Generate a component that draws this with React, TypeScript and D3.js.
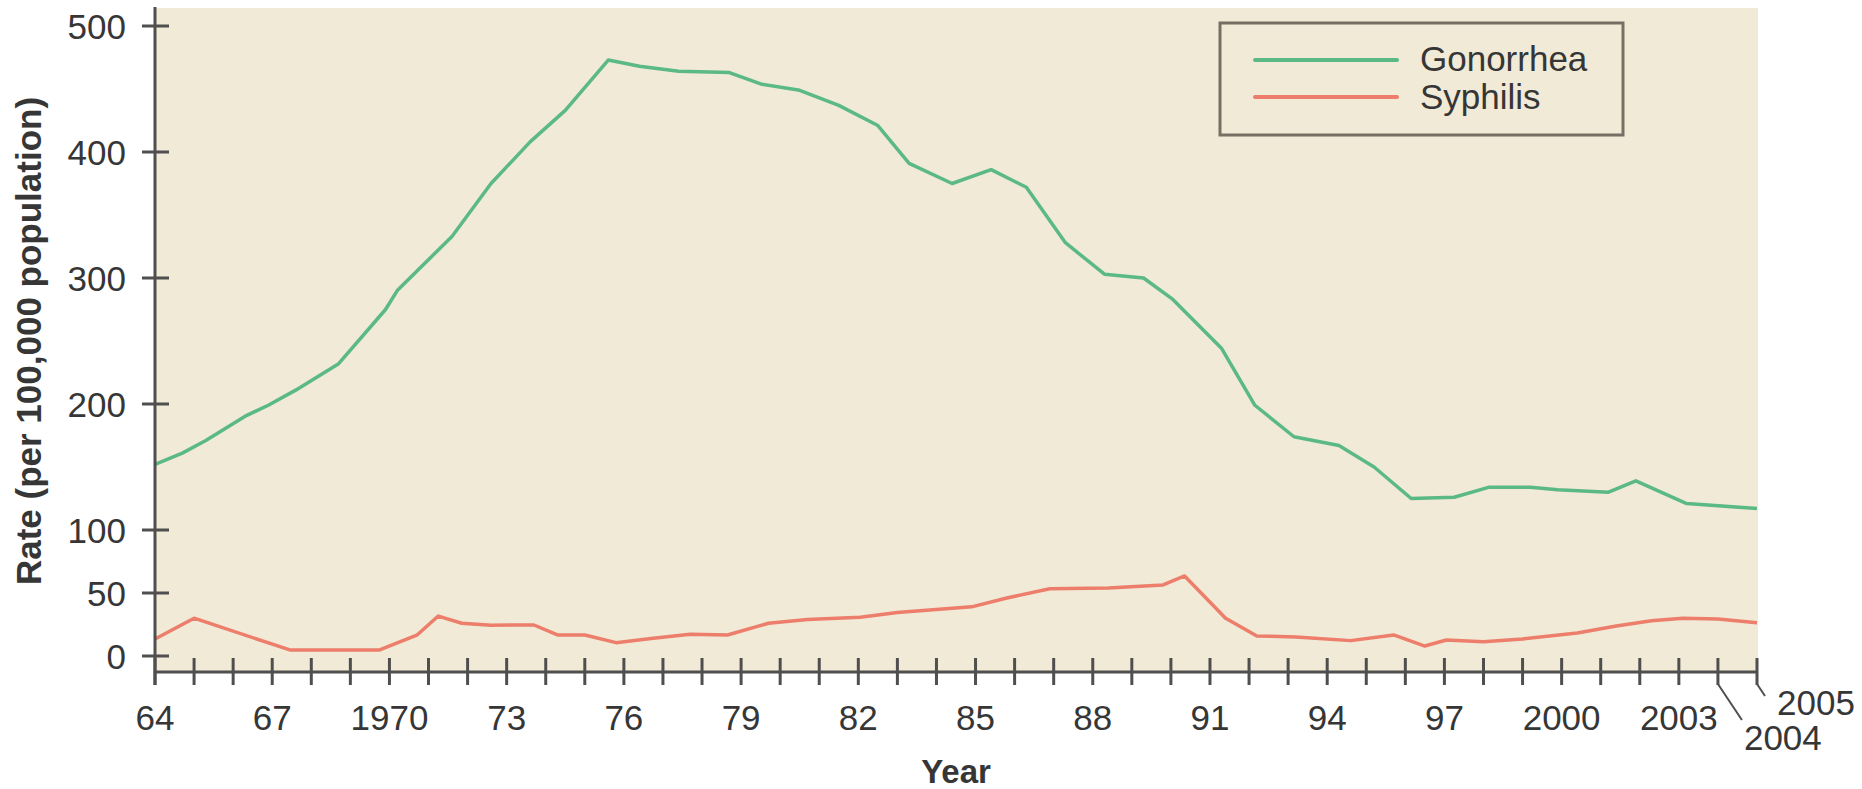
import React from "react";
import * as d3 from "d3";

const gonorrheaYears = [1964, 1964.7, 1965.3, 1966.35, 1966.9, 1967.6, 1968.7, 1969.9, 1970.2, 1971.6, 1972.6, 1973.6, 1974.5, 1975.6, 1976.4, 1977.4, 1978.7, 1979.5, 1980.5, 1981.5, 1982.5, 1983.3, 1984.4, 1985.4, 1986.3, 1987.3, 1988.3, 1989.3, 1990.05, 1991.3, 1992.15, 1993.15, 1994.3, 1995.2, 1996.15, 1997.25, 1998.15, 1999.2, 1999.9, 2001.2, 2001.9, 2003.2, 2005];
const gonorrheaRates = [152, 161, 171, 191, 199, 211, 232, 275, 290, 333, 375, 408, 433, 473, 468, 464, 463, 454, 449, 437, 421, 391, 375, 386, 372, 328, 303, 300, 283, 244, 199, 174, 167, 150, 125, 126, 134, 134, 132, 130, 139, 121, 117];

const syphilisYears = [1964, 1965, 1967.45, 1969.75, 1970.7, 1971.25, 1971.85, 1972.6, 1973.7, 1974.3, 1975, 1975.8, 1976.75, 1977.7, 1978.65, 1979.7, 1980.7, 1982.05, 1983, 1984.9, 1985.8, 1986.9, 1988.4, 1989.8, 1990.35, 1991.4, 1992.2, 1993.2, 1994.6, 1995.7, 1996.5, 1997.05, 1998, 1999, 2000.4, 2001.4, 2002.3, 2003.1, 2004, 2005];
const syphilisRates = [13.5, 30, 4.8, 4.8, 16.5, 31.7, 26, 24.5, 24.6, 16.7, 16.7, 10.6, 14, 17.2, 16.7, 26, 29, 30.7, 34.5, 39, 46, 53.4, 54, 56.4, 63.5, 30, 15.9, 15.1, 12.2, 16.7, 7.9, 12.7, 11.4, 13.5, 18.2, 23.8, 28, 30, 29.4, 26.4];

const yTicks = [0, 50, 100, 200, 300, 400, 500];
const xTickYears = d3.range(1964, 2006);
const xLabelYears = [1964, 1967, 1970, 1973, 1976, 1979, 1982, 1985, 1988, 1991, 1994, 1997, 2000, 2003];
const xLabelText = ["64", "67", "1970", "73", "76", "79", "82", "85", "88", "91", "94", "97", "2000", "2003"];

const seriesNames = ["Gonorrhea", "Syphilis"];
const seriesColors = ["#5bb985", "#ec7e6b"];

export default function App() {
  const W = 1862, H = 789;
  const x = d3.scaleLinear().domain([1964, 2005]).range([155, 1757]);
  const y = d3.scaleLinear().domain([0, 500]).range([656, 26]);
  const axisY = 672;
  const axisColor = "#4f4f4f";
  const textColor = "#363636";
  const font = "'Liberation Sans', Arial, Helvetica, sans-serif";

  const line = d3.line<[number, number]>().x(d => x(d[0])).y(d => y(d[1]));
  const gData = gonorrheaYears.map((yr, i) => [yr, gonorrheaRates[i]] as [number, number]);
  const sData = syphilisYears.map((yr, i) => [yr, syphilisRates[i]] as [number, number]);

  const x2004 = x(2004), x2005 = x(2005);

  return (
    <svg width={W} height={H} style={{ position: "absolute", left: 0, top: 0, background: "#fff" }} fontFamily={font}>
      <rect x={x(1964)} y={8} width={x(2005) - x(1964) + 1} height={axisY - 8} fill="#f1ead7" />

      {/* legend */}
      <rect x={1220} y={23} width={403} height={112} fill="#f1ead7" stroke="#776f63" strokeWidth={3} />
      {seriesNames.map((n, i) => (
        <g key={n}>
          <line x1={1255} x2={1397} y1={60 + i * 37} y2={60 + i * 37} stroke={seriesColors[i]} strokeWidth={4} strokeLinecap="round" />
          <text x={1420} y={71 + i * 38} fontSize={35} fill={textColor}>{n}</text>
        </g>
      ))}

      {/* lines */}
      <path d={line(gData) || ""} fill="none" stroke={seriesColors[0]} strokeWidth={3.5} strokeLinejoin="round" />
      <path d={line(sData) || ""} fill="none" stroke={seriesColors[1]} strokeWidth={3.5} strokeLinejoin="round" />

      {/* y axis */}
      <line x1={x(1964)} x2={x(1964)} y1={7} y2={685} stroke={axisColor} strokeWidth={3} />
      {yTicks.map(t => (
        <g key={t}>
          <line x1={142} x2={169} y1={y(t)} y2={y(t)} stroke={axisColor} strokeWidth={3} />
          <text x={126} y={y(t)} dy="0.36em" textAnchor="end" fontSize={35} fill={textColor}>{t}</text>
        </g>
      ))}
      <text transform={`translate(41,341) rotate(-90)`} textAnchor="middle" fontSize={35} fontWeight="bold" fill={textColor}>
        Rate (per 100,000 population)
      </text>

      {/* x axis */}
      <line x1={x(1964)} x2={x(2005)} y1={axisY} y2={axisY} stroke={axisColor} strokeWidth={3} />
      {xTickYears.map(yr => (
        <line key={yr} x1={x(yr)} x2={x(yr)} y1={658} y2={685} stroke={axisColor} strokeWidth={3} />
      ))}
      {xLabelYears.map((yr, i) => (
        <text key={yr} x={x(yr)} y={730} textAnchor="middle" fontSize={35} fill={textColor}>{xLabelText[i]}</text>
      ))}
      <path d={`M${x2004},684 L${x2004 + 24},720`} stroke={axisColor} strokeWidth={2} fill="none" />
      <text x={x2004 + 26} y={750} fontSize={35} fill={textColor}>2004</text>
      <path d={`M${x2005},684 L${x2005 + 8},696`} stroke={axisColor} strokeWidth={2} fill="none" />
      <text x={x2005 + 20} y={715} fontSize={35} fill={textColor}>2005</text>

      <text x={(x(1964) + x(2005)) / 2} y={783} textAnchor="middle" fontSize={33} fontWeight="bold" fill={textColor}>Year</text>
    </svg>
  );
}
